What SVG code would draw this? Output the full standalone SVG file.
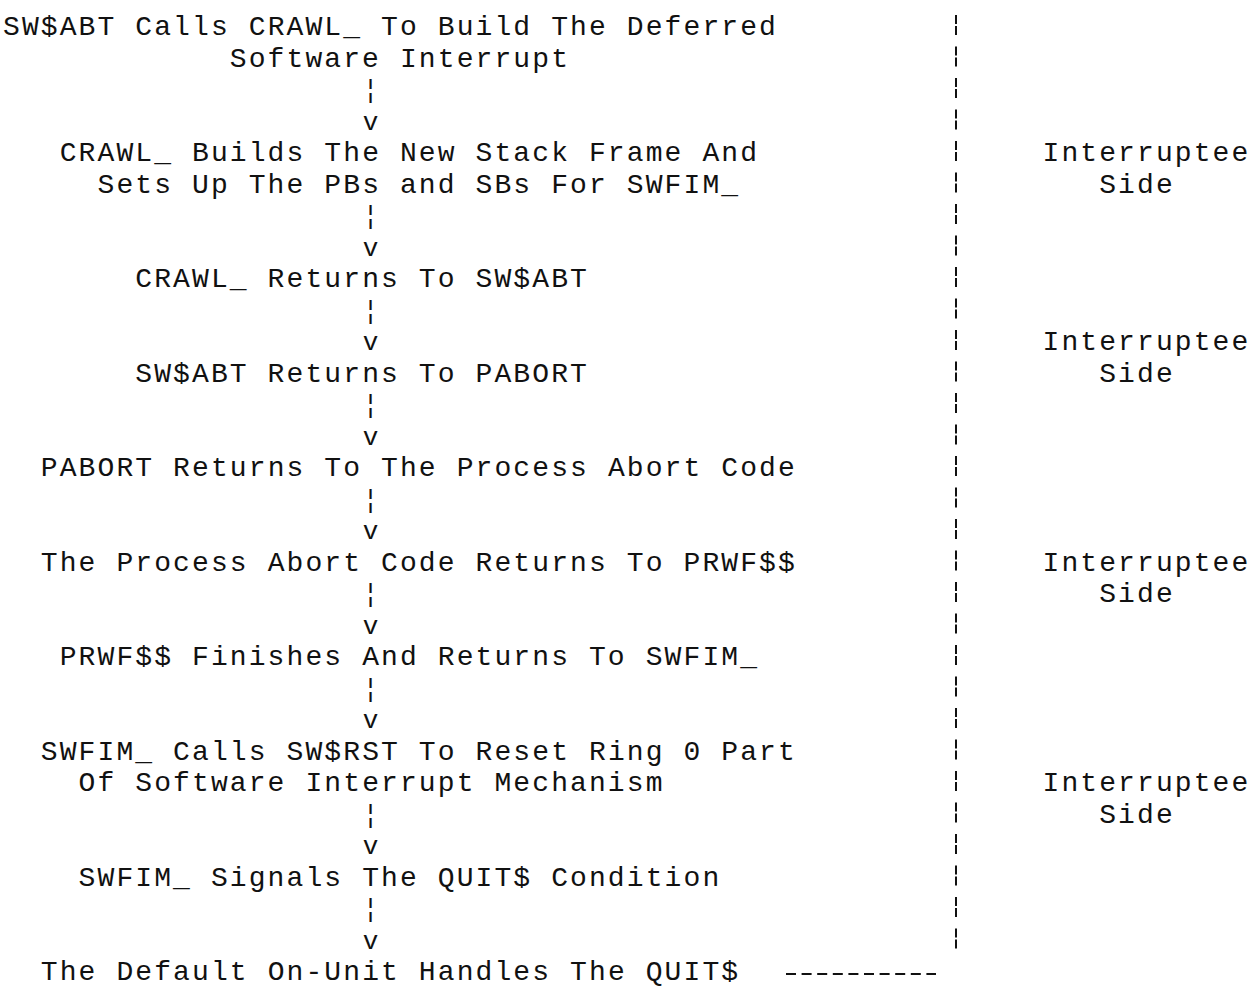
<svg xmlns="http://www.w3.org/2000/svg" width="1260" height="987" viewBox="0 0 1260 987">
<style>
.t{font-family:"Liberation Mono","DejaVu Sans Mono",monospace;font-size:28px;letter-spacing:2.1px;fill:#111;white-space:pre}
.c{font-family:"Liberation Mono","DejaVu Sans Mono",monospace;font-size:26px;fill:#111}
.div{stroke:#111;stroke-width:2;fill:none}
</style>
<rect width="1260" height="987" fill="#fff"/>
<g id="n1"><text class="t" x="3" y="35">SW$ABT Calls CRAWL_ To Build The Deferred</text><text class="t" x="229.8" y="66.5">Software Interrupt</text></g>
<g id="n2"><text class="t" x="59.7" y="161">CRAWL_ Builds The New Stack Frame And</text><text class="t" x="97.5" y="192.5">Sets Up The PBs and SBs For SWFIM_</text></g>
<g id="n3"><text class="t" x="135.3" y="287">CRAWL_ Returns To SW$ABT</text></g>
<g id="n4"><text class="t" x="135.3" y="381.5">SW$ABT Returns To PABORT</text></g>
<g id="n5"><text class="t" x="40.8" y="476">PABORT Returns To The Process Abort Code</text></g>
<g id="n6"><text class="t" x="40.8" y="570.5">The Process Abort Code Returns To PRWF$$</text></g>
<g id="n7"><text class="t" x="59.7" y="665">PRWF$$ Finishes And Returns To SWFIM_</text></g>
<g id="n8"><text class="t" x="40.8" y="759.5">SWFIM_ Calls SW$RST To Reset Ring 0 Part</text><text class="t" x="78.6" y="791">Of Software Interrupt Mechanism</text></g>
<g id="n9"><text class="t" x="78.6" y="885.5">SWFIM_ Signals The QUIT$ Condition</text></g>
<g id="n10"><text class="t" x="40.8" y="980">The Default On-Unit Handles The QUIT$</text></g>
<g id="side1"><text class="t" x="1042.5" y="161">Interruptee</text><text class="t" x="1099.2" y="192.5">Side</text></g>
<g id="side2"><text class="t" x="1042.5" y="350">Interruptee</text><text class="t" x="1099.2" y="381.5">Side</text></g>
<g id="side3"><text class="t" x="1042.5" y="570.5">Interruptee</text><text class="t" x="1099.2" y="602">Side</text></g>
<g id="side4"><text class="t" x="1042.5" y="791">Interruptee</text><text class="t" x="1099.2" y="822.5">Side</text></g>
<g id="connectors">
<text class="c" x="362.7" y="98">¦</text><text class="c" x="362.7" y="129.5">v</text>
<text class="c" x="362.7" y="224">¦</text><text class="c" x="362.7" y="255.5">v</text>
<text class="c" x="362.7" y="318.5">¦</text><text class="c" x="362.7" y="350">v</text>
<text class="c" x="362.7" y="413">¦</text><text class="c" x="362.7" y="444.5">v</text>
<text class="c" x="362.7" y="507.5">¦</text><text class="c" x="362.7" y="539">v</text>
<text class="c" x="362.7" y="602">¦</text><text class="c" x="362.7" y="633.5">v</text>
<text class="c" x="362.7" y="696.5">¦</text><text class="c" x="362.7" y="728">v</text>
<text class="c" x="362.7" y="822.5">¦</text><text class="c" x="362.7" y="854">v</text>
<text class="c" x="362.7" y="917">¦</text><text class="c" x="362.7" y="948.5">v</text>
<line class="div" x1="956" y1="15" x2="956" y2="951" stroke-dasharray="9 2 9 11.5"/>
<line class="div" x1="786" y1="974" x2="936" y2="974" stroke-width="2.5" stroke-dasharray="10 5.6"/>
</g>
</svg>
